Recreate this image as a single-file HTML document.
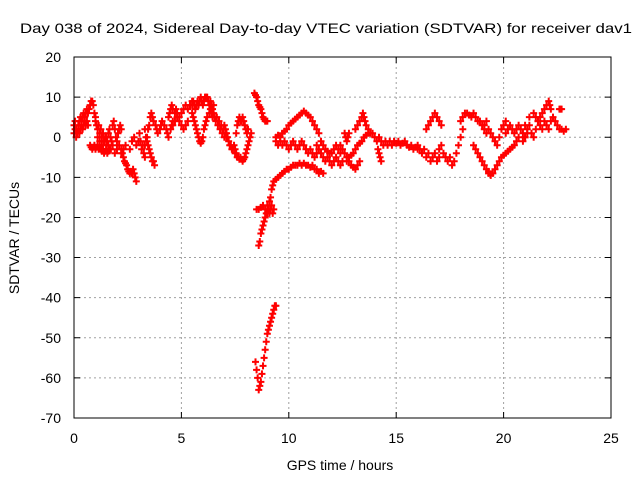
<!DOCTYPE html>
<html><head><meta charset="utf-8"><style>
html,body{margin:0;padding:0;background:#fff;}
svg{display:block;font-family:"Liberation Sans",sans-serif;}
</style></head><body>
<svg id="chart" width="640" height="480" viewBox="0 0 640 480" xmlns="http://www.w3.org/2000/svg">
<rect width="640" height="480" fill="#fff"/>
<text x="326" y="33" font-size="14" text-anchor="middle" textLength="612" lengthAdjust="spacingAndGlyphs">Day 038 of 2024, Sidereal Day-to-day VTEC variation (SDTVAR) for receiver dav1</text>
<g id="grid"></g>
<g id="ticks"></g>
<g id="marks"></g>
<rect x="74" y="57" width="537" height="361" fill="none" stroke="#000" stroke-width="1"/>
<text x="340" y="470" font-size="14" text-anchor="middle">GPS time / hours</text>
<text transform="translate(19,238) rotate(-90)" font-size="14" text-anchor="middle">SDTVAR / TECUs</text>
</svg>
<script>
const xTicks=[0,5,10,15,20,25];
const yTicks=[20,10,0,-10,-20,-30,-40,-50,-60,-70];
// each track: [hour, SDTVAR] observations
const track01=[[0,3],[0.05,4],[0.1,2],[0.15,1],[0.2,3],[0.25,4],[0.3,5],[0.35,4],[0.4,5],[0.45,6],[0.5,5],[0.55,6],[0.6,7],[0.65,6],[0.7,7],[0.75,8],[0.8,9],[0.85,9],[0.9,8],[0.95,6],[1.0,5]];
const track02=[[0,1],[0.05,2],[0.1,0],[0.15,1],[0.2,2],[0.25,1],[0.3,2],[0.35,3],[0.4,2],[0.45,3],[0.5,4],[0.55,3],[0.6,4],[0.65,3]];
const track03=[[0.75,-2],[0.8,-2.5],[0.85,-3],[0.9,-2.5],[0.95,-2],[1.0,-3],[1.05,-2.5],[1.1,-2],[1.15,-3],[1.2,-2.5],[1.25,-3],[1.3,-3.5],[1.35,-3],[1.4,-4],[1.45,-3.5],[1.5,-3],[1.55,-4],[1.6,-3.5],[1.65,-3]];
const track04=[[1.0,4],[1.05,3],[1.1,2],[1.15,3],[1.2,1],[1.25,2],[1.3,0],[1.35,1],[1.4,-1],[1.45,0],[1.5,-2],[1.55,-1],[1.6,1],[1.65,2],[1.7,0],[1.75,-1],[1.8,3],[1.85,4],[1.9,2],[1.95,0],[2.0,-1],[2.05,1],[2.1,2],[2.15,3],[2.2,2]];
const track05=[[1.1,0],[1.2,-1],[1.3,-2],[1.4,-1],[1.5,0],[1.6,-2],[1.7,-3],[1.8,-2],[1.9,-4],[2.0,-3],[2.1,-2],[2.2,-4],[2.3,-3],[2.4,-2]];
const track06=[[2.2,-3],[2.25,-4],[2.3,-5],[2.35,-6],[2.4,-6.5],[2.45,-7],[2.5,-8],[2.55,-8.5],[2.6,-9],[2.65,-8.5],[2.7,-9],[2.75,-8],[2.8,-9],[2.85,-10],[2.9,-11]];
const track07=[[2.6,-3],[2.7,-1],[2.8,0],[2.9,-2],[3.0,-1],[3.05,1],[3.1,-1],[3.15,-3],[3.2,-2],[3.25,-4],[3.3,-5]];
const track08=[[3.3,2],[3.35,0],[3.4,-1],[3.45,-2],[3.5,-3],[3.55,-4],[3.6,-5],[3.65,-6],[3.7,-6],[3.75,-7]];
const track09=[[3.3,-2],[3.4,0],[3.45,2],[3.5,3],[3.55,5],[3.6,6],[3.65,5],[3.7,4],[3.8,3],[3.85,2],[3.9,1],[4.0,2],[4.05,3],[4.1,4],[4.2,3],[4.3,2],[4.35,1],[4.4,0],[4.5,2],[4.55,3],[4.6,4]];
const track10=[[4.4,5],[4.45,6],[4.5,7],[4.55,8],[4.6,7],[4.7,6],[4.75,7],[4.8,6],[4.9,5],[5.0,6],[5.1,7],[5.2,8],[5.3,7],[5.4,8],[5.5,9]];
const track11=[[4.6,3],[4.7,4],[4.8,5],[4.9,4],[5.0,3],[5.1,2],[5.2,3],[5.3,4]];
const track12=[[5.5,8],[5.55,9],[5.6,8],[5.65,7],[5.7,8],[5.75,9],[5.8,8],[5.85,9],[5.9,10],[5.95,9],[6.0,8],[6.05,9],[6.1,10],[6.15,10],[6.2,10],[6.25,9],[6.3,8],[6.35,9],[6.4,8],[6.45,7],[6.5,8]];
const track13=[[5.5,6],[5.55,5],[5.6,4],[5.65,3],[5.7,2],[5.75,1],[5.8,0],[5.85,-1],[5.9,-1.5],[5.95,-1],[6.0,0],[6.05,2],[6.1,3],[6.15,4],[6.2,5]];
const track14=[[6.3,6],[6.35,7],[6.4,6],[6.45,5],[6.5,6],[6.55,5],[6.6,4],[6.65,5],[6.7,3],[6.75,4],[6.8,2],[6.85,3],[6.9,1],[6.95,2],[7.0,0],[7.05,1],[7.1,0]];
const track15=[[7.0,3],[7.05,2],[7.1,1],[7.15,0],[7.2,-1],[7.25,-2],[7.3,-2],[7.35,-3],[7.4,-3],[7.45,-2],[7.5,-3]];
const track16=[[7.5,-4],[7.55,-4],[7.6,-5],[7.65,-5],[7.7,-5.5],[7.75,-5],[7.8,-5.5],[7.85,-6],[7.9,-5.5],[7.95,-5],[8.0,-4],[8.05,-3],[8.1,-2],[8.15,-1],[8.2,0],[8.25,1]];
const track17=[[7.55,1],[7.6,3],[7.65,4],[7.7,5],[7.75,4],[7.8,4],[7.85,5],[7.9,4],[7.95,3],[8.0,2],[8.05,1],[8.1,2]];
const track18=[[8.4,11],[8.45,10.5],[8.5,10],[8.55,9],[8.6,8],[8.65,7.5],[8.7,7],[8.75,6],[8.8,5],[8.85,4.5],[8.9,4],[8.95,4],[9.0,4]];
const track19=[[8.5,-18],[8.6,-18],[8.7,-17.5],[8.8,-17],[8.9,-18],[9.0,-17],[9.05,-18],[9.1,-19],[9.15,-18],[9.2,-17],[9.25,-19],[9.3,-18]];
const track20=[[8.6,-27],[8.65,-26],[8.7,-24],[8.75,-23],[8.8,-22],[8.85,-21],[8.9,-20],[8.95,-19],[9.0,-19],[9.05,-18],[9.1,-16],[9.15,-15],[9.2,-13],[9.25,-12],[9.3,-11],[9.4,-10.5],[9.5,-10],[9.6,-9.5],[9.7,-9],[9.8,-8.5],[9.9,-8],[10.0,-8],[10.1,-7.5],[10.2,-7],[10.3,-7],[10.4,-7],[10.5,-6.5],[10.6,-7],[10.7,-6.5],[10.8,-7],[10.9,-7],[11.0,-7.5],[11.1,-7],[11.2,-8],[11.3,-8],[11.4,-9],[11.5,-8.5],[11.6,-9]];
const track21=[[8.45,-56],[8.5,-58],[8.55,-60],[8.6,-63],[8.65,-62],[8.7,-61],[8.75,-59],[8.8,-57],[8.85,-55],[8.9,-53],[8.95,-51],[9.0,-49],[9.05,-48],[9.1,-47],[9.15,-46],[9.2,-45],[9.25,-44],[9.3,-43],[9.35,-42],[9.4,-42]];
const track22=[[9.4,0],[9.5,0.5],[9.6,0],[9.7,1],[9.8,1.5],[9.9,2],[10.0,3],[10.1,3.5],[10.2,4],[10.3,4.5],[10.4,5],[10.5,5.5],[10.6,6],[10.7,6.5],[10.8,6],[10.9,5.5],[11.0,5],[11.1,4],[11.2,3],[11.3,2],[11.4,1],[11.5,-1],[11.6,-2],[11.7,-3],[11.8,-3.5],[11.9,-4],[12.0,-4],[12.1,-3],[12.2,-2],[12.3,-3],[12.4,-4]];
const track23=[[9.4,-1],[9.5,-2],[9.6,-1],[9.7,-2],[9.8,-1],[9.9,-2],[10.0,-3],[10.1,-2],[10.2,-1],[10.3,-2],[10.4,-3],[10.5,-2],[10.6,-1],[10.7,-2],[10.8,-3],[10.9,-4],[11.0,-3],[11.1,-4],[11.2,-5],[11.3,-4]];
const track24=[[11.3,-2],[11.4,-3],[11.5,-4],[11.6,-5],[11.7,-6],[11.8,-5],[11.9,-6],[12.0,-7],[12.1,-6],[12.2,-5],[12.3,-6],[12.4,-7],[12.5,-6]];
const track25=[[12.4,-2],[12.5,-3],[12.6,-4],[12.7,-5],[12.8,-6],[12.9,-7],[13.0,-7.5],[13.1,-8],[13.2,-7],[13.3,-6]];
const track26=[[12.7,-6],[12.8,-5],[12.9,-4.5],[13.0,-4],[13.1,-3],[13.2,-2],[13.3,-1.5],[13.4,-1],[13.5,0],[13.6,0.5],[13.7,1],[13.8,1]];
const track27=[[12.6,1],[12.65,0],[12.7,-1],[12.75,0],[12.8,1]];
const track28=[[13.1,2],[13.2,3],[13.3,4],[13.4,5],[13.45,6],[13.5,5],[13.55,4],[13.6,3],[13.7,2]];
const track29=[[13.9,1],[14.0,0],[14.1,-1],[14.2,0],[14.3,-1],[14.4,-2],[14.5,-1],[14.6,-2],[14.7,-1],[14.8,-2],[14.9,-1],[15.0,-1.5],[15.1,-1],[15.2,-2],[15.3,-1.5],[15.4,-1],[15.5,-2],[15.6,-2.5],[15.7,-2],[15.8,-3],[15.9,-2.5],[16.0,-3]];
const track30=[[14.15,-3],[14.2,-4],[14.25,-5],[14.3,-6]];
const track31=[[16.0,-2],[16.1,-3],[16.2,-4],[16.3,-3],[16.4,-5],[16.5,-4],[16.6,-6],[16.7,-5],[16.8,-4],[16.9,-6],[17.0,-5]];
const track32=[[16.4,2],[16.5,3],[16.6,4],[16.7,5],[16.8,6],[16.9,5],[17.0,4],[17.1,3]];
const track33=[[17.0,-3],[17.1,-2],[17.2,-4],[17.3,-5],[17.4,-6],[17.5,-5],[17.6,-7],[17.7,-6],[17.8,-4],[17.9,-2],[18.0,0],[18.1,2]];
const track34=[[18.0,4],[18.1,5],[18.2,6],[18.3,6],[18.4,5.5],[18.5,5],[18.6,6],[18.7,5],[18.8,4],[18.9,4],[19.0,3],[19.1,2],[19.2,1]];
const track35=[[18.6,-2],[18.7,-3],[18.8,-4],[18.9,-5],[19.0,-6],[19.1,-7],[19.2,-8],[19.3,-8.5]];
const track36=[[19.1,3],[19.2,4],[19.3,2],[19.4,1],[19.5,0],[19.6,-1],[19.7,-2],[19.8,0],[19.9,2],[20.0,3],[20.1,4]];
const track37=[[19.3,-9],[19.4,-9.5],[19.5,-9],[19.6,-8],[19.7,-7],[19.8,-6],[19.9,-5],[20.0,-4.5],[20.1,-4],[20.2,-3.5],[20.3,-3],[20.4,-2.5],[20.5,-2],[20.6,-1],[20.7,0]];
const track38=[[20.1,1],[20.2,2],[20.3,3],[20.4,2],[20.5,1],[20.6,2],[20.7,3],[20.8,2],[20.9,1],[21.0,0],[21.1,1]];
const track39=[[20.9,-1],[21.0,0],[21.1,2],[21.2,3],[21.3,1],[21.4,0],[21.5,2],[21.6,4],[21.7,5],[21.8,6],[21.9,4],[22.0,3],[22.1,2],[22.2,4],[22.3,5],[22.4,4],[22.5,3],[22.6,2],[22.7,2],[22.8,1.5],[22.9,2]];
const track40=[[21.0,3],[21.2,5],[21.4,6],[21.5,5],[21.6,4],[21.7,3],[21.8,2],[21.9,7],[22.0,8],[22.1,9],[22.15,8],[22.2,7]];
const track41=[[22.6,7],[22.65,7],[22.7,7]];
const tracks=[track01,track02,track03,track04,track05,track06,track07,track08,track09,track10,track11,track12,track13,track14,track15,track16,track17,track18,track19,track20,track21,track22,track23,track24,track25,track26,track27,track28,track29,track30,track31,track32,track33,track34,track35,track36,track37,track38,track39,track40,track41];

const X0=74,X1=611,Y0=57,Y1=418;
function xs(v){return X0+(v-0)/(25-0)*(X1-X0);}
function ys(v){return Y0+(20-v)/(20-(-70))*(Y1-Y0);}
const NS="http://www.w3.org/2000/svg";
const grid=document.getElementById('grid'),ticks=document.getElementById('ticks'),marks=document.getElementById('marks');
function mk(tag,attrs,parent){const e=document.createElementNS(NS,tag);for(const k in attrs)e.setAttribute(k,attrs[k]);parent.appendChild(e);return e;}
xTicks.forEach(t=>{
  const x=xs(t);
  if(t>0&&t<25){const g=mk('line',{x1:x,x2:x,y1:Y0,y2:Y1,stroke:'#a0a0a0','stroke-dasharray':'2,3','stroke-width':1},grid);
  
  }
  const tl=mk('path',{d:`M${x},${Y1}v-6M${x},${Y0}v6`,stroke:'#000'},ticks);
  
  
  const lb=mk('text',{x:x,y:443,'font-size':14,'text-anchor':'middle'},ticks);lb.textContent=t;
  
  
});
yTicks.forEach(t=>{
  const y=ys(t);
  if(t<20&&t>-70){const g=mk('line',{x1:X0,x2:X1,y1:y,y2:y,stroke:'#a0a0a0','stroke-dasharray':'2,3','stroke-width':1},grid);
  
  }
  const tl=mk('path',{d:`M${X0},${y}h6M${X1},${y}h-6`,stroke:'#000'},ticks);
  
  
  const lb=mk('text',{x:61,y:y+5,'font-size':14,'text-anchor':'end'},ticks);lb.textContent=t;
  
  
});
tracks.forEach(tr=>{
  tr.forEach(pt=>{
    const x=xs(pt[0]),y=ys(pt[1]);
    const p=mk('path',{d:`M${x-3.5},${y}h7M${x},${y-3.5}v7`,stroke:'#ff0000','stroke-width':2},marks);
    
    
  });
});
</script>
</body></html>
